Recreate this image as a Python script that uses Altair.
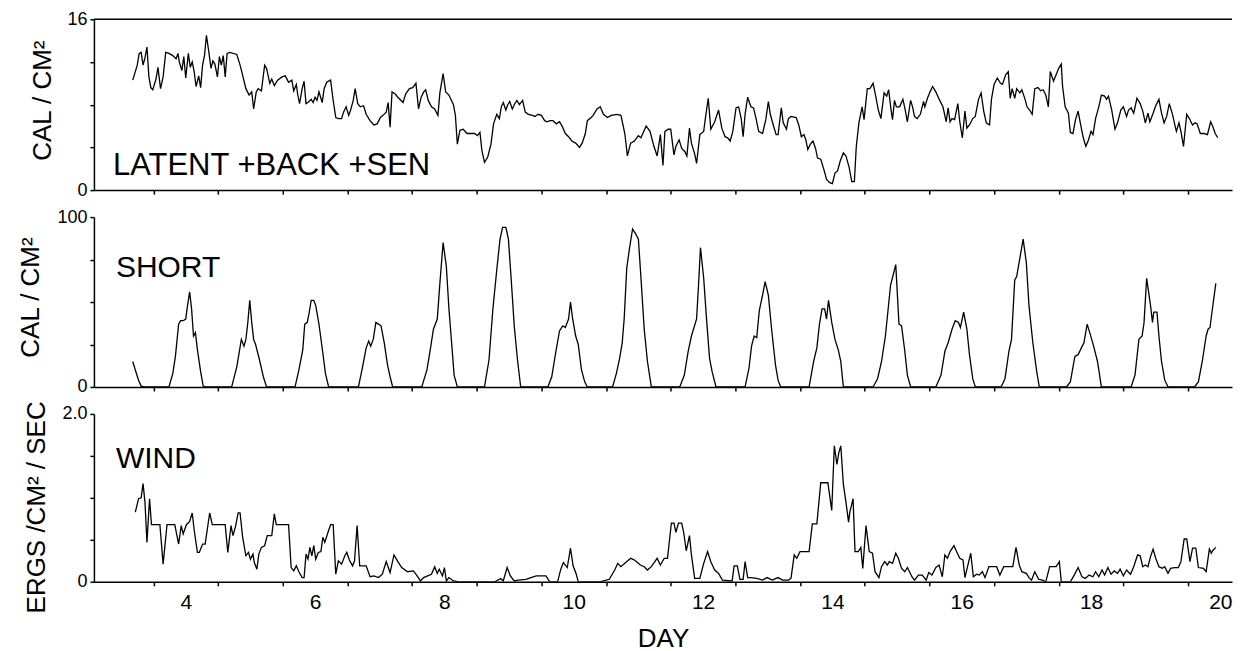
import altair as alt
import pandas as pd

FONT = "Liberation Sans"

# ---------------- data ----------------
lat_day = [3.18, 3.25, 3.28, 3.31, 3.34, 3.37, 3.40, 3.43, 3.46, 3.49, 3.54, 3.57, 3.61, 3.65, 3.69, 3.74, 3.80, 3.85, 3.88, 3.90,
           3.94, 3.97, 4.00, 4.04, 4.07, 4.10, 4.13, 4.16, 4.20, 4.23, 4.26, 4.29, 4.32, 4.36, 4.39, 4.42, 4.45, 4.49, 4.52, 4.55,
           4.58, 4.61, 4.64, 4.68, 4.79, 4.84, 4.87, 4.93, 4.98, 5.02, 5.05, 5.09, 5.12, 5.17, 5.22, 5.25, 5.30, 5.33, 5.37, 5.42,
           5.49, 5.54, 5.59, 5.64, 5.67, 5.71, 5.73, 5.76, 5.80, 5.83, 5.86, 5.89, 5.94, 5.97, 6.00, 6.03, 6.06, 6.11, 6.14, 6.18,
           6.24, 6.28, 6.32, 6.36, 6.41, 6.44, 6.48, 6.52, 6.55, 6.59, 6.62, 6.66, 6.70, 6.75, 6.79, 6.85, 6.91, 6.96, 7.01, 7.05,
           7.10, 7.13, 7.16, 7.19, 7.24, 7.28, 7.36, 7.40, 7.46, 7.51, 7.56, 7.60, 7.64, 7.68, 7.71, 7.75, 7.80, 7.85, 7.90, 7.93,
           7.98, 8.02, 8.07, 8.14, 8.17, 8.20, 8.24, 8.29, 8.35, 8.41, 8.47, 8.51, 8.55, 8.58, 8.62, 8.67, 8.72, 8.76, 8.81, 8.85,
           8.88, 8.91, 8.95, 8.98, 9.01, 9.05, 9.08, 9.12, 9.16, 9.21, 9.25, 9.30, 9.36, 9.40, 9.45, 9.50, 9.55, 9.59, 9.63, 9.68,
           9.73, 9.78, 9.82, 9.87, 9.92, 9.97, 10.03, 10.09, 10.13, 10.18, 10.21, 10.27, 10.30, 10.36, 10.41, 10.46, 10.52, 10.58,
           10.67, 10.73, 10.79, 10.83, 10.88, 10.94, 11.00, 11.04, 11.12, 11.18, 11.24, 11.29, 11.34, 11.38, 11.41, 11.46, 11.50,
           11.55, 11.58, 11.63, 11.67, 11.72, 11.75, 11.79, 11.82, 11.87, 11.90, 11.95, 12.01, 12.04, 12.08, 12.12, 12.18, 12.24,
           12.29, 12.34, 12.38, 12.42, 12.46, 12.51, 12.55, 12.59, 12.62, 12.65, 12.69, 12.74, 12.78, 12.82, 12.86, 12.92, 12.97,
           13.01, 13.04, 13.09, 13.13, 13.16, 13.21, 13.24, 13.29, 13.32, 13.36, 13.44, 13.48, 13.52, 13.56, 13.59, 13.62, 13.66,
           13.70, 13.74, 13.77, 13.82, 13.87, 13.91, 13.96, 14.00, 14.04, 14.08, 14.12, 14.17, 14.21, 14.26, 14.30, 14.34, 14.37,
           14.41, 14.46, 14.49, 14.54, 14.58, 14.63, 14.67, 14.71, 14.75, 14.80, 14.84, 14.87, 14.91, 14.93, 14.96, 14.99, 15.04,
           15.09, 15.12, 15.16, 15.21, 15.24, 15.27, 15.31, 15.36, 15.41, 15.43, 15.47, 15.51, 15.55, 15.60, 15.66, 15.71, 15.76,
           15.79, 15.82, 15.85, 15.89, 15.94, 15.97, 16.01, 16.05, 16.08, 16.12, 16.17, 16.21, 16.26, 16.30, 16.34, 16.38, 16.43,
           16.46, 16.50, 16.55, 16.60, 16.63, 16.68, 16.72, 16.75, 16.78, 16.82, 16.85, 16.90, 16.93, 16.98, 17.01, 17.05, 17.09,
           17.13, 17.18, 17.22, 17.26, 17.30, 17.34, 17.37, 17.42, 17.46, 17.50, 17.54, 17.56, 17.60, 17.65, 17.68, 17.72, 17.76,
           17.80, 17.84, 17.88, 17.92, 17.96, 18.00, 18.03, 18.07, 18.12, 18.16, 18.21, 18.24, 18.27, 18.32, 18.37, 18.41, 18.46,
           18.50, 18.55, 18.58, 18.62, 18.66, 18.71, 18.76, 18.80, 18.84, 18.88, 18.91, 18.96, 19.00, 19.05, 19.09, 19.13, 19.17,
           19.21, 19.26, 19.30, 19.32, 19.36, 19.39, 19.43, 19.48, 19.52, 19.57, 19.61, 19.64, 19.69, 19.75, 19.80, 19.85, 19.88,
           19.92, 19.96]
lat_val = [10.3, 11.7, 12.8, 12.9, 11.7, 12.4, 13.4, 10.6, 9.6, 9.4, 10.4, 11.5, 9.5, 10.6, 12.9, 12.8, 12.6, 12.3, 12.8, 12.0,
           11.2, 12.5, 10.5, 12.8, 11.5, 12.0, 11.1, 9.7, 10.7, 9.6, 11.7, 12.6, 14.5, 12.8, 11.4, 12.1, 11.8, 10.6, 12.5, 11.7,
           12.6, 10.6, 12.8, 12.9, 12.7, 11.7, 11.0, 9.5, 8.9, 9.2, 7.6, 9.2, 9.5, 9.3, 11.7, 11.4, 10.0, 10.4, 9.8, 10.3,
           10.6, 10.7, 10.1, 10.3, 9.3, 9.9, 9.0, 8.1, 9.5, 10.2, 8.1, 8.2, 8.5, 8.2, 8.7, 8.4, 9.2, 8.2, 9.5, 10.1,
           10.3, 8.4, 6.8, 6.7, 6.7, 7.3, 7.8, 7.0, 7.5, 8.4, 9.5, 8.1, 7.8, 7.9, 7.1, 6.5, 6.1, 6.2, 6.8, 7.0,
           7.3, 8.2, 5.9, 9.2, 9.0, 8.7, 8.2, 9.0, 9.5, 9.6, 10.0, 7.6, 8.7, 9.2, 9.4, 8.4, 7.8, 7.6, 7.0, 9.1,
           10.9, 9.2, 8.9, 8.0, 7.0, 4.3, 5.6, 5.7, 5.3, 5.3, 5.3, 5.1, 5.4, 3.7, 2.6, 3.1, 4.3, 6.2, 7.1, 6.7,
           7.8, 8.2, 7.5, 8.0, 8.3, 7.6, 8.0, 8.4, 8.0, 8.4, 7.3, 7.1, 7.0, 6.9, 7.1, 7.0, 6.5, 6.4, 6.5, 6.5,
           6.2, 6.4, 6.0, 5.3, 5.0, 4.6, 4.4, 4.0, 4.4, 5.3, 6.5, 6.8, 7.0, 7.6, 7.8, 7.1, 6.8, 7.0,
           7.1, 7.0, 5.3, 3.2, 4.4, 4.6, 5.1, 4.9, 6.0, 5.5, 4.1, 3.2, 5.2, 2.3, 5.5, 5.7, 5.7,
           3.3, 4.1, 4.7, 3.9, 3.6, 3.2, 5.8, 4.4, 3.4, 2.5, 5.2, 5.5, 6.9, 8.6, 5.7, 6.4, 7.5,
           5.8, 5.0, 4.9, 4.6, 5.5, 7.7, 7.8, 6.7, 5.0, 7.1, 8.7, 7.8, 7.7, 6.7, 5.5, 5.3, 6.6,
           8.3, 7.1, 6.0, 5.2, 5.2, 7.7, 6.3, 5.7, 6.7, 6.9, 6.8, 6.1, 5.0, 5.2, 4.7, 3.8, 4.3,
           4.6, 3.9, 3.0, 2.9, 1.9, 1.0, 0.7, 0.6, 1.6, 1.8, 2.7, 3.5, 3.2, 2.1, 0.8, 0.8, 4.1,
           6.3, 7.8, 6.6, 9.5, 9.5, 10.0, 8.8, 7.5, 6.7, 9.1, 8.8, 9.4, 7.4, 6.6, 8.4, 7.8, 7.8,
           8.5, 7.7, 6.4, 8.4, 7.8, 6.9, 6.7, 7.1, 8.3, 7.8, 8.6, 9.2, 9.7, 9.2, 8.4, 7.8, 6.4,
           7.7, 6.4, 6.7, 6.6, 8.1, 6.4, 4.9, 7.4, 5.8, 6.1, 6.7, 6.9, 8.5, 9.1, 7.4, 6.3, 6.1,
           8.5, 9.9, 10.5, 10.0, 9.9, 10.8, 11.1, 8.6, 9.5, 8.6, 9.5, 9.1, 9.4, 8.5, 7.8, 7.5, 7.1,
           9.5, 9.6, 9.3, 9.4, 8.9, 7.8, 11.1, 10.2, 10.8, 11.4, 11.8, 9.7, 7.8, 7.2, 5.4, 5.3, 6.6,
           7.4, 6.1, 4.9, 4.1, 4.7, 5.5, 5.2, 6.7, 7.8, 8.9, 8.8, 8.5, 8.8, 7.5, 5.7, 6.3, 7.5,
           7.8, 6.9, 7.5, 7.7, 7.2, 8.6, 8.1, 7.4, 6.3, 7.2, 6.4, 7.2, 7.9, 8.5, 7.2, 6.3, 6.9,
           8.1, 7.1, 6.0, 5.5, 6.3, 5.5, 4.1, 7.1, 6.7, 6.1, 6.3, 6.2, 5.3, 5.3, 5.2, 6.4, 6.0,
           5.3, 4.9]

sw_day = [3.18, 3.22, 3.27, 3.31, 3.35,
          3.74, 3.80, 3.84, 3.89, 3.92, 3.96, 4.00, 4.02, 4.06, 4.09, 4.12, 4.15, 4.18, 4.23, 4.27, 4.30,
          4.71, 4.79, 4.86, 4.90, 4.93, 4.96, 4.99, 5.02, 5.05, 5.08, 5.14, 5.20, 5.25,
          5.69, 5.75, 5.81, 5.84, 5.88, 5.91, 5.94, 5.98, 6.01, 6.06, 6.12, 6.16, 6.21,
          6.67, 6.73, 6.79, 6.83, 6.86, 6.90, 6.94, 6.98, 7.02, 7.07, 7.12, 7.16, 7.20,
          7.65, 7.73, 7.79, 7.83, 7.89, 7.93, 7.98, 8.03, 8.07, 8.12, 8.15, 8.20,
          8.62, 8.69, 8.75, 8.81, 8.86, 8.90, 8.95, 8.99, 9.03, 9.08, 9.13, 9.18,
          9.60, 9.66, 9.72, 9.78, 9.83, 9.87, 9.92, 9.95, 9.98, 10.03, 10.07, 10.12, 10.17, 10.21,
          10.60, 10.66, 10.71, 10.75, 10.78, 10.82, 10.86, 10.91, 10.96, 11.00, 11.04, 11.09, 11.14, 11.20,
          11.64, 11.71, 11.77, 11.82, 11.90, 11.93, 11.96, 12.01, 12.05, 12.10, 12.14, 12.20,
          12.65, 12.71, 12.75, 12.79, 12.83, 12.87, 12.92, 12.96, 13.01, 13.06, 13.12, 13.16, 13.20,
          13.64, 13.71, 13.76, 13.80, 13.84, 13.88, 13.91, 13.94, 13.99, 14.04, 14.09, 14.13, 14.17,
          14.63, 14.70, 14.76, 14.82, 14.90, 14.98, 15.03, 15.07, 15.12, 15.16, 15.21,
          15.60, 15.68, 15.74, 15.79, 15.85, 15.90, 15.95, 15.98, 16.03, 16.08, 16.12, 16.17, 16.21,
          16.61, 16.67, 16.73, 16.77, 16.82, 16.85, 16.90, 16.95, 17.00, 17.04, 17.10, 17.16, 17.20,
          17.62, 17.68, 17.75, 17.80, 17.85, 17.89, 17.94, 17.98, 18.04, 18.10, 18.16,
          18.62, 18.68, 18.74, 18.79, 18.82, 18.86, 18.89, 18.92, 18.95, 18.97, 19.02, 19.05, 19.09, 19.14, 19.19,
          19.60, 19.66, 19.72, 19.78, 19.81, 19.84, 19.87, 19.93]
sw_val = [15, 10, 4, 0.5, 0,
          0, 8, 18, 37, 39, 39, 40, 46, 56, 46, 30, 32, 22, 9, 0.5, 0,
          0, 12, 28, 24, 28, 38, 51, 38, 28, 25, 16, 6, 0,
          0, 10, 22, 37, 38, 44, 51, 51, 48, 37, 20, 8, 0,
          0, 11, 23, 27, 24, 28, 38, 37, 36, 26, 13, 6, 0,
          0, 10, 24, 34, 40, 61, 85, 71, 46, 22, 7, 0,
          0, 16, 46, 69, 87, 94, 94, 87, 65, 36, 16, 0,
          0, 6, 20, 33, 36, 35, 40, 50, 41, 30, 25, 10, 3, 0,
          0, 8, 17, 26, 40, 70, 81, 93, 90, 87, 64, 34, 15, 0,
          0, 7, 21, 30, 40, 60, 82, 64, 42, 17, 9, 0,
          0, 11, 24, 30, 29, 45, 54, 62, 54, 34, 13, 4, 0,
          0, 15, 23, 37, 46, 46, 40, 51, 38, 28, 22, 15, 0,
          0, 5, 15, 30, 60, 72, 37, 36, 21, 7, 0,
          0, 7, 21, 26, 34, 39, 38, 35, 44, 34, 19, 5, 0,
          0, 5, 21, 28, 63, 65, 76, 87, 73, 48, 26, 9, 0,
          0, 3, 18, 19, 23, 26, 37, 32, 24, 15, 0,
          0, 7, 28, 30, 38, 64, 56, 48, 38, 44, 44, 30, 15, 4, 0,
          0, 3, 15, 30, 34, 35, 44, 61]

wind_day = [3.22, 3.27, 3.31, 3.34, 3.37, 3.40, 3.44, 3.47, 3.52, 3.60, 3.65, 3.71, 3.83, 3.89, 3.93, 3.96, 4.01, 4.06, 4.10,
            4.13, 4.18, 4.21, 4.26, 4.30, 4.37, 4.41, 4.61, 4.65, 4.70, 4.73, 4.77, 4.81, 4.84, 4.88, 4.93, 4.97, 5.00, 5.04,
            5.06, 5.10, 5.13, 5.17, 5.22, 5.26, 5.33, 5.37, 5.40, 5.59, 5.63, 5.67, 5.71, 5.75, 5.80, 5.83, 5.86, 5.89, 5.92,
            5.95, 5.98, 6.01, 6.05, 6.09, 6.12, 6.15, 6.20, 6.24, 6.28, 6.32, 6.36, 6.41, 6.46, 6.49, 6.53, 6.58, 6.61, 6.65,
            6.69, 6.79, 6.85, 6.91, 6.98, 7.04, 7.10, 7.16, 7.22, 7.28, 7.34, 7.43, 7.52, 7.57, 7.63, 7.68, 7.74, 7.80, 7.85,
            7.89, 7.92, 7.97, 8.00, 8.03, 8.07, 8.14, 8.23, 8.53, 8.78, 8.87, 8.91, 8.97, 9.02, 9.08, 9.14, 9.26, 9.42, 9.57,
            9.63, 9.75, 9.80, 9.84, 9.90, 9.95, 9.99, 10.04, 10.07, 10.18, 10.30, 10.40, 10.46, 10.55, 10.64, 10.68,
            10.73, 10.79, 10.88, 10.94, 11.03, 11.09, 11.14, 11.20, 11.29, 11.34, 11.40, 11.45, 11.51, 11.55, 11.58, 11.62,
            11.67, 11.70, 11.74, 11.79, 11.82, 11.87, 11.95, 12.01, 12.07, 12.12, 12.18, 12.24, 12.30, 12.45, 12.48, 12.53,
            12.57, 12.62, 12.65, 12.69, 12.74, 12.83, 12.92, 12.99, 13.07, 13.16, 13.23, 13.32, 13.36, 13.41, 13.45, 13.50,
            13.58, 13.64, 13.69, 13.76, 13.82, 13.93, 13.99, 14.03, 14.07, 14.10, 14.13, 14.17, 14.21, 14.25, 14.27, 14.32,
            14.35, 14.40, 14.44, 14.47, 14.52, 14.57, 14.62, 14.66, 14.72, 14.76, 14.81, 14.85, 14.88, 14.93, 14.98, 15.02,
            15.07, 15.12, 15.16, 15.23, 15.27, 15.33, 15.39, 15.45, 15.49, 15.54, 15.60, 15.65, 15.70, 15.74, 15.78, 15.82,
            15.88, 15.92, 15.97, 16.02, 16.05, 16.09, 16.14, 16.18, 16.23, 16.27, 16.32, 16.36, 16.42, 16.54, 16.59, 16.65,
            16.79, 16.84, 16.89, 16.93, 17.00, 17.04, 17.08, 17.13, 17.19, 17.25, 17.30, 17.36, 17.46, 17.51, 17.54, 17.68,
            17.74, 17.80, 17.86, 17.91, 17.97, 18.03, 18.07, 18.12, 18.17, 18.21, 18.26, 18.31, 18.36, 18.41, 18.45, 18.50,
            18.55, 18.61, 18.66, 18.72, 18.76, 18.80, 18.84, 18.88, 18.92, 18.96, 19.00, 19.05, 19.10, 19.14, 19.19, 19.23,
            19.29, 19.35, 19.39, 19.44, 19.48, 19.53, 19.57, 19.62, 19.66, 19.74, 19.78, 19.83, 19.86, 19.88, 19.93]
wind_val = [0.83, 0.99, 1.00, 1.17, 0.94, 0.47, 0.99, 0.68, 0.68, 0.68, 0.21, 0.68, 0.68, 0.45, 0.67, 0.57, 0.68, 0.72, 0.82,
            0.62, 0.35, 0.35, 0.45, 0.45, 0.82, 0.68, 0.68, 0.35, 0.67, 0.55, 0.66, 0.82, 0.82, 0.53, 0.31, 0.35, 0.27, 0.33,
            0.23, 0.15, 0.33, 0.41, 0.43, 0.55, 0.55, 0.81, 0.68, 0.68, 0.17, 0.13, 0.19, 0.12, 0.05, 0.05, 0.33, 0.27, 0.41,
            0.31, 0.43, 0.27, 0.35, 0.36, 0.53, 0.47, 0.59, 0.68, 0.68, 0.09, 0.25, 0.21, 0.31, 0.35, 0.26, 0.19, 0.25, 0.67,
            0.19, 0.19, 0.06, 0.07, 0.05, 0.09, 0.24, 0.11, 0.32, 0.24, 0.17, 0.12, 0.13, 0.08, 0.01, 0.05, 0.07, 0.09, 0.18,
            0.10, 0.15, 0.07, 0.17, 0.01, 0.05, 0.01, 0.0, 0.0, 0.0, 0.04, 0.01, 0.17, 0.07, 0.01, 0.02, 0.03, 0.07, 0.07,
            0.0, 0.0, 0.15, 0.23, 0.17, 0.40, 0.19, 0.09, 0.0, 0.0, 0.0, 0.0, 0.01, 0.03, 0.15, 0.22,
            0.18, 0.22, 0.28, 0.26, 0.20, 0.18, 0.14, 0.18, 0.28, 0.20, 0.28, 0.28, 0.70, 0.70, 0.59, 0.70,
            0.70, 0.59, 0.37, 0.55, 0.32, 0.04, 0.04, 0.22, 0.36, 0.24, 0.14, 0.10, 0.02, 0.01, 0.19, 0.19,
            0.03, 0.03, 0.24, 0.05, 0.05, 0.04, 0.02, 0.05, 0.02, 0.05, 0.02, 0.02, 0.04, 0.32, 0.28, 0.36,
            0.36, 0.36, 0.69, 0.69, 1.18, 1.18, 0.85, 1.62, 1.40, 1.54, 1.62, 1.16, 0.95, 0.71, 0.83, 0.99,
            0.36, 0.36, 0.41, 0.16, 0.67, 0.36, 0.34, 0.12, 0.05, 0.18, 0.24, 0.20, 0.24, 0.22, 0.34, 0.28,
            0.16, 0.12, 0.17, 0.06, 0.02, 0.08, 0.08, 0.02, 0.11, 0.08, 0.17, 0.20, 0.06, 0.32, 0.28, 0.36,
            0.43, 0.36, 0.28, 0.26, 0.05, 0.18, 0.34, 0.06, 0.09, 0.08, 0.12, 0.05, 0.18, 0.18, 0.08, 0.18,
            0.18, 0.41, 0.20, 0.12, 0.10, 0.05, 0.02, 0.12, 0.03, 0.02, 0.0, 0.18, 0.18, 0.24, 0.0, 0.0,
            0.08, 0.17, 0.06, 0.04, 0.08, 0.06, 0.12, 0.06, 0.14, 0.08, 0.17, 0.09, 0.13, 0.10, 0.15, 0.07,
            0.14, 0.09, 0.18, 0.32, 0.31, 0.18, 0.20, 0.18, 0.30, 0.39, 0.28, 0.18, 0.16, 0.18, 0.10, 0.16,
            0.17, 0.17, 0.24, 0.51, 0.51, 0.24, 0.40, 0.40, 0.17, 0.16, 0.12, 0.39, 0.34, 0.37, 0.41]

panel_labels = ["LATENT +BACK +SEN", "SHORT", "WIND"]
y_titles = ["CAL / CM²", "CAL / CM²", "ERGS /CM² / SEC"]
x_title = "DAY"
x_label_days = [4, 6, 8, 10, 12, 14, 16, 18, 20]
x_tick_days = [3.5, 4.5, 5.5, 6.5, 7.5, 8.5, 9.5, 10.5, 11.5, 12.5, 13.5, 14.5, 15.5, 16.5, 17.5, 18.5, 19.5]
y_ticks_top = [0, 4, 8, 12, 16]
y_ticks_mid = [0, 25, 50, 75, 100]
y_ticks_bot = [0, 0.5, 1.0, 1.5, 2.0]

# ---------------- layout / style ----------------
XDOM = [2.58, 20.18]
W = 1139
x_values = sorted(x_tick_days + x_label_days)


def x_axis(show_labels):
    common = dict(
        values=x_values, grid=False, domainColor="black", domainWidth=1.5,
        tickColor="black", tickWidth=1.5, tickSize=4,
        tickOpacity={"condition": {"test": "datum.value % 1 === 0", "value": 0}, "value": 1},
        labelOverlap=False, labelFlush=False,
    )
    if show_labels:
        return alt.Axis(
            **common,
            labelExpr="datum.value % 2 === 0 ? '' + datum.value : ''",
            labelFont=FONT, labelFontSize=21, labelColor="black", labelPadding=6,
            title=x_title, titleFont=FONT, titleFontSize=26, titleFontWeight="normal",
            titleColor="black", titleBaseline="alphabetic", titleY=65,
        )
    return alt.Axis(**common, labels=False, title=None)


def y_axis(vals, expr, title, tx, ty):
    return alt.Axis(
        values=vals, labelExpr=expr, grid=False, domainColor="black", domainWidth=1.5,
        tickColor="black", tickWidth=1.5, tickSize=4,
        labelFont=FONT, labelFontSize=18, labelColor="black", labelPadding=3,
        labelFlush=False, labelOverlap=False,
        title=title, titleFont=FONT, titleFontSize=26, titleFontWeight="normal",
        titleColor="black", titleX=tx, titleY=ty, titleBaseline="middle", titleAlign="center",
    )


def panel(days, vals, ydom, yax, height, label, lsize, lx, ly, show_x_labels, top_rule=False):
    df = pd.DataFrame({"day": days, "v": vals})
    line = alt.Chart(df).mark_line(color="black", strokeWidth=1.3, clip=True).encode(
        x=alt.X("day:Q", scale=alt.Scale(domain=XDOM, nice=False, zero=False), axis=x_axis(show_x_labels)),
        y=alt.Y("v:Q", scale=alt.Scale(domain=ydom, nice=False, zero=True), axis=yax),
    )
    txt = alt.Chart(pd.DataFrame({"t": [label]})).mark_text(
        font=FONT, fontSize=lsize, align="left", baseline="alphabetic", color="black"
    ).encode(x=alt.value(lx), y=alt.value(ly), text="t:N")
    layers = [line, txt]
    if top_rule:
        rule = alt.Chart(pd.DataFrame({"r": [ydom[1]]})).mark_rule(color="black", strokeWidth=1.5).encode(
            y=alt.Y("r:Q")
        )
        layers.append(rule)
    return alt.layer(*layers).properties(width=W, height=height)


p1 = panel(lat_day, lat_val, [0, 16],
           y_axis(y_ticks_top, "datum.value == 0 || datum.value == 16 ? '' + datum.value : ''", y_titles[0], -51, 81),
           171, panel_labels[0], 31, 19, 156, False, top_rule=True)
p2 = panel(sw_day, sw_val, [0, 100],
           y_axis(y_ticks_mid, "datum.value == 0 || datum.value == 100 ? '' + datum.value : ''", y_titles[1], -63, 80),
           170, panel_labels[1], 30, 22, 60, False)
p3 = panel(wind_day, wind_val, [0, 2],
           y_axis(y_ticks_bot, "datum.value == 0 ? '0' : (datum.value == 2 ? '2.0' : '')", y_titles[2], -57, 93),
           168, panel_labels[2], 30, 22, 54, True)

chart = alt.vconcat(p1, p2, p3, spacing=27, bounds="flush").properties(
    padding={"left": 9, "top": 2, "right": 0, "bottom": 0},
    background="white",
).configure_view(strokeWidth=0)

chart.save("out.html", embed_options={"renderer": "svg", "actions": False})
